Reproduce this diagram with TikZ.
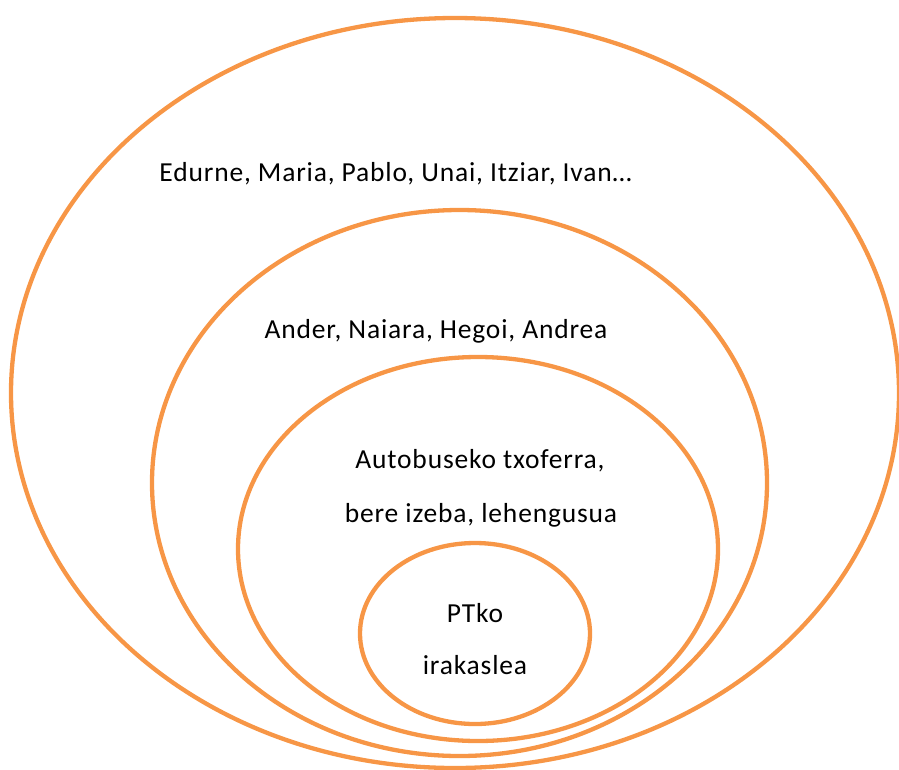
\documentclass[tikz,border=0pt]{standalone}
\usepackage{fontspec}
\setmainfont{Carlito}[LetterSpace=3]
\definecolor{ring}{HTML}{F79646}
\begin{document}
\begin{tikzpicture}[x=1pt,y=-1pt,
  ringline/.style={draw=ring,line width=4.3pt},
  lbl/.style={font=\fontsize{27.5}{31}\selectfont,text=black,inner sep=0pt,anchor=base}]
\useasboundingbox (0,0) rectangle (899,769);
\draw[ringline] (455,393) ellipse [x radius=444, y radius=375];
\draw[ringline] (459.5,483) ellipse [x radius=307.5, y radius=273];
\draw[ringline] (478,549) ellipse [x radius=240, y radius=192];
\draw[ringline] (475,633.5) ellipse [x radius=115, y radius=90.5];
\node[lbl] (t1) at (395.5,181) {Edurne, Maria, Pablo, Unai, Itziar, Ivan…};
\node[lbl] (t2) at (436,338) {Ander, Naiara, Hegoi, Andrea};
\node[lbl] (t3) at (480,468) {Autobuseko txoferra,};
\node[lbl] (t4) at (481,522) {bere izeba, lehengusua};
\node[lbl] (t5) at (475,622) {PTko};
\node[lbl] (t6) at (475,674) {irakaslea};
\end{tikzpicture}
\end{document}
